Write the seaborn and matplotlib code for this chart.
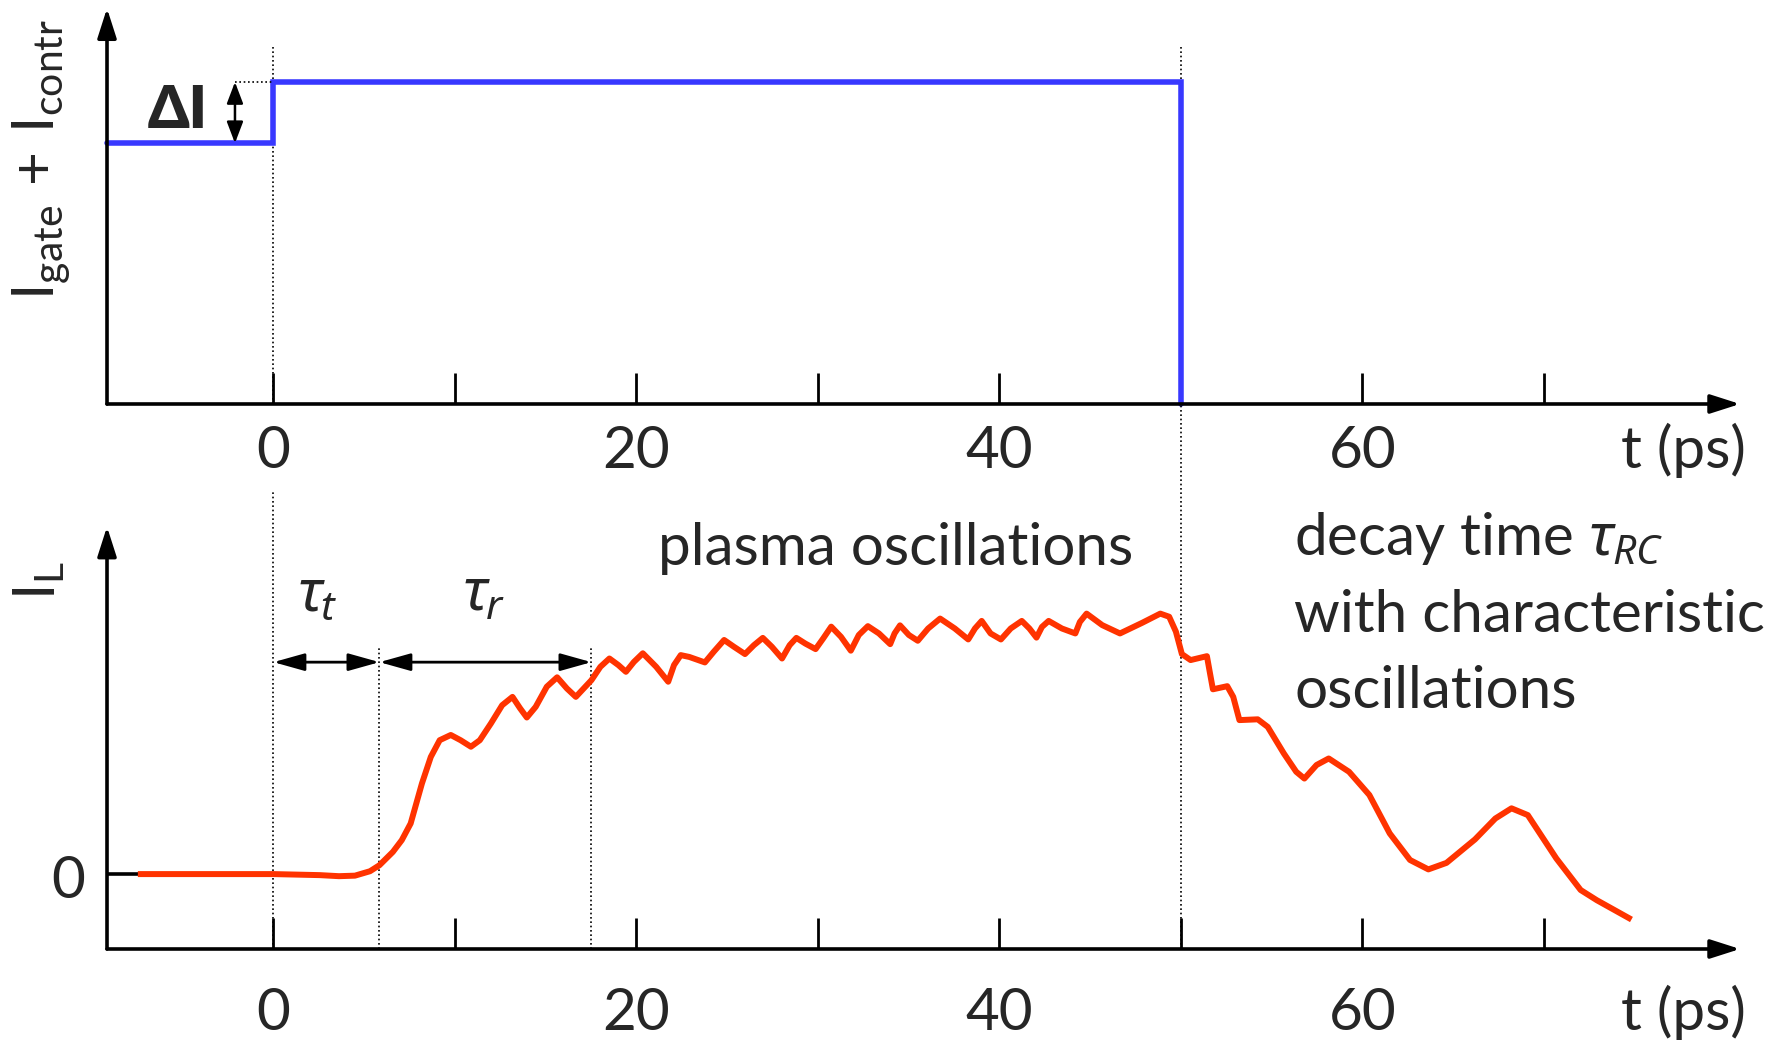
import matplotlib
matplotlib.use("Agg")
import matplotlib.pyplot as plt
import seaborn as sns

# top panel: I_gate + I_contr, step of dI at t=0, switched off at t=50 ps
gate_t = [-9.17, 0, 0, 50, 50]
gate_i = [0.81, 0.81, 1.0, 1.0, 0.0]

# bottom panel: load current I_L (arb. units)
load_t = [-7.47, -4.05, 0.00, 2.56, 3.61, 4.49, 5.32, 5.84, 6.58, 7.07,
          7.56, 8.18, 8.67, 9.16, 9.77, 10.31, 10.88, 11.37, 11.98, 12.60,
          13.17, 13.59, 13.96, 14.45, 15.06, 15.63, 16.17, 16.66, 17.52, 18.01,
          18.51, 19.00, 19.42, 19.86, 20.35, 21.09, 21.75, 22.07, 22.44, 22.91,
          23.77, 24.26, 24.83, 25.37, 25.98, 26.47, 26.96, 27.46, 28.02, 28.44,
          28.81, 29.31, 29.87, 30.29, 30.73, 31.27, 31.81, 32.25, 32.75, 33.36,
          33.98, 34.22, 34.52, 35.01, 35.50, 36.07, 36.73, 37.54, 38.28, 38.65,
          39.02, 39.51, 40.08, 40.62, 41.23, 41.65, 42.04, 42.34, 42.71, 43.44,
          44.18, 44.43, 44.80, 45.66, 46.64, 47.87, 48.86, 49.35, 49.72, 50.05,
          50.53, 51.43, 51.60, 51.76, 52.55, 52.88, 53.22, 54.23, 54.78, 55.67,
          56.35, 56.80, 57.47, 58.14, 59.26, 60.38, 61.50, 62.62, 63.63, 64.63,
          66.20, 67.32, 68.21, 69.11, 70.68, 72.02, 72.91, 74.82]
load_i = [0.000, 0.000, 0.000, -0.004, -0.008, -0.006, 0.011, 0.034, 0.085, 0.130,
          0.194, 0.347, 0.449, 0.513, 0.533, 0.513, 0.488, 0.513, 0.577, 0.647,
          0.679, 0.635, 0.600, 0.641, 0.718, 0.754, 0.711, 0.679, 0.743, 0.794,
          0.826, 0.801, 0.775, 0.813, 0.846, 0.794, 0.737, 0.801, 0.839, 0.832,
          0.811, 0.852, 0.897, 0.871, 0.843, 0.877, 0.905, 0.871, 0.826, 0.877,
          0.905, 0.883, 0.862, 0.903, 0.948, 0.909, 0.856, 0.916, 0.950, 0.922,
          0.881, 0.922, 0.953, 0.916, 0.894, 0.941, 0.979, 0.941, 0.899, 0.941,
          0.970, 0.922, 0.899, 0.941, 0.970, 0.941, 0.906, 0.947, 0.970, 0.941,
          0.922, 0.966, 0.998, 0.954, 0.922, 0.963, 0.998, 0.986, 0.929, 0.843,
          0.820, 0.835, 0.769, 0.708, 0.720, 0.679, 0.590, 0.593, 0.564, 0.462,
          0.392, 0.366, 0.418, 0.443, 0.392, 0.303, 0.156, 0.054, 0.018, 0.043,
          0.133, 0.213, 0.252, 0.226, 0.060, -0.061, -0.100, -0.174]

tick_marks = [0, 10, 20, 30, 40, 50, 60, 70]
tick_labels = [0, 20, 40, 60]
t_switch_on = 0
t_transit = 5.84      # end of tau_t
t_rise = 17.52        # end of tau_r
t_switch_off = 50
t_min, t_max = -9.17, 80.8

BLUE = "#3838ff"
RED = "#ff3300"
FS = 42

sns.set_style("white")
plt.rcParams["font.family"] = ["Lato", "DejaVu Sans"]
plt.rcParams["mathtext.fontset"] = "custom"
plt.rcParams["mathtext.rm"] = "Lato"
plt.rcParams["mathtext.it"] = "Noto Sans:italic"

fig = plt.figure(figsize=(17.87, 10.45), dpi=100)
ax1 = fig.add_axes([0.05988, 0.61340, 0.91382, 0.37866])
ax2 = fig.add_axes([0.05988, 0.09187, 0.91382, 0.40411])
ax1.set_xlim(t_min, t_max)
ax1.set_ylim(0, 1.229)
ax2.set_xlim(t_min, t_max)
ax2.set_ylim(-0.287, 1.331)

for ax in (ax1, ax2):
    for s in ax.spines.values():
        s.set_visible(False)
    ax.set_xticks(tick_marks)
    ax.set_yticks([])
    ax.tick_params(axis="x", bottom=True, direction="in", length=22, width=2.0,
                   color="k", labelbottom=False)
    ax.patch.set_alpha(0)


def arrow(ax, start, end, style, ms, lw):
    ax.annotate("", xy=end, xytext=start, annotation_clip=False,
                arrowprops=dict(arrowstyle=style, color="k", lw=lw, shrinkA=0,
                                shrinkB=0, mutation_scale=ms))


def dotted(ax, t, y0, y1):
    ax.plot([t, t], [y0, y1], color="k", lw=1.2, ls=(0, (1, 1.6)), clip_on=False)


# axes with arrow heads
y0_top, y0_bot = ax1.get_ylim()[0], ax2.get_ylim()[0]
axis_style = "-|>,head_length=1.0,head_width=0.32"
arrow(ax1, (t_min, y0_top), (t_min, ax1.get_ylim()[1]), axis_style, 18, 2.6)
arrow(ax1, (t_min, y0_top), (t_max, y0_top), axis_style, 18, 2.6)
arrow(ax2, (t_min, y0_bot), (t_min, ax2.get_ylim()[1]), axis_style, 18, 2.6)
arrow(ax2, (t_min, y0_bot), (t_max, y0_bot), axis_style, 18, 2.6)

# dotted guides
dotted(ax1, t_switch_on, 0, 1.115)
dotted(ax1, t_switch_off, 0, 1.115)
dotted(ax2, t_switch_on, y0_bot, 1.471)
dotted(ax2, t_switch_off, y0_bot, 1.801)
dotted(ax2, t_transit, y0_bot, 0.870)
dotted(ax2, t_rise, y0_bot, 0.870)

# top panel trace
sns.lineplot(x=gate_t, y=gate_i, ax=ax1, color=BLUE, lw=4.0, sort=False,
             estimator=None, clip_on=False, solid_joinstyle="miter")
ax1.plot([-2.12, t_switch_on], [1.0, 1.0], color="k", lw=1.2,
         ls=(0, (1, 1.6)))
arrow(ax1, (-2.12, 0.81), (-2.12, 1.0), "<|-|>,head_length=1.0,head_width=0.38",
      13, 1.8)
ax1.text(-5.29, 0.857, "ΔI", ha="center", va="baseline", fontsize=FS,
         fontweight="heavy")
ax1.text(-12.81, 0.761, r"$\mathrm{I}_{\mathrm{gate}}\mathrm{\,+\,I}_{\mathrm{contr}}$",
         rotation=90, ha="center", va="center", fontsize=FS)

# bottom panel trace
ax2.plot([t_min, load_t[0]], [0, 0], color="k", lw=2.6)
sns.lineplot(x=load_t, y=load_i, ax=ax2, color=RED, lw=4.3, sort=False,
             estimator=None, solid_joinstyle="round", solid_capstyle="butt")
tau_style = "<|-|>,head_length=1.0,head_width=0.28"
arrow(ax2, (t_switch_on, 0.812), (t_transit, 0.812), tau_style, 19, 2.0)
arrow(ax2, (t_transit, 0.812), (t_rise, 0.812), tau_style, 19, 2.0)
ax2.text(1.29, 1.011, r"$\tau_t$", ha="left", va="baseline", fontsize=FS)
ax2.text(10.39, 1.011, r"$\tau_r$", ha="left", va="baseline", fontsize=FS)
ax2.text(21.19, 1.184, "plasma oscillations", ha="left", va="baseline", fontsize=FS)
ax2.text(56.23, 1.222, r"decay time $\tau_{RC}$", ha="left", va="baseline", fontsize=FS)
ax2.text(56.23, 0.927, "with characteristic", ha="left", va="baseline", fontsize=FS)
ax2.text(56.23, 0.636, "oscillations", ha="left", va="baseline", fontsize=FS)
ax2.text(-11.32, -0.092, "0", ha="center", va="baseline", fontsize=FS)
ax2.text(-12.92, 1.126, r"$\mathrm{I}_{\mathrm{L}}$", rotation=90, ha="center",
         va="center", fontsize=FS)

# tick labels
for ax, base in ((ax1, -0.199), (ax2, -0.598)):
    for tv in tick_labels:
        ax.text(tv, base, str(tv), ha="center", va="baseline", fontsize=FS,
                clip_on=False)
    ax.text(77.7, base, "t (ps)", ha="center", va="baseline", fontsize=FS,
            clip_on=False)

fig.savefig("out.png", dpi=100, facecolor="white")
